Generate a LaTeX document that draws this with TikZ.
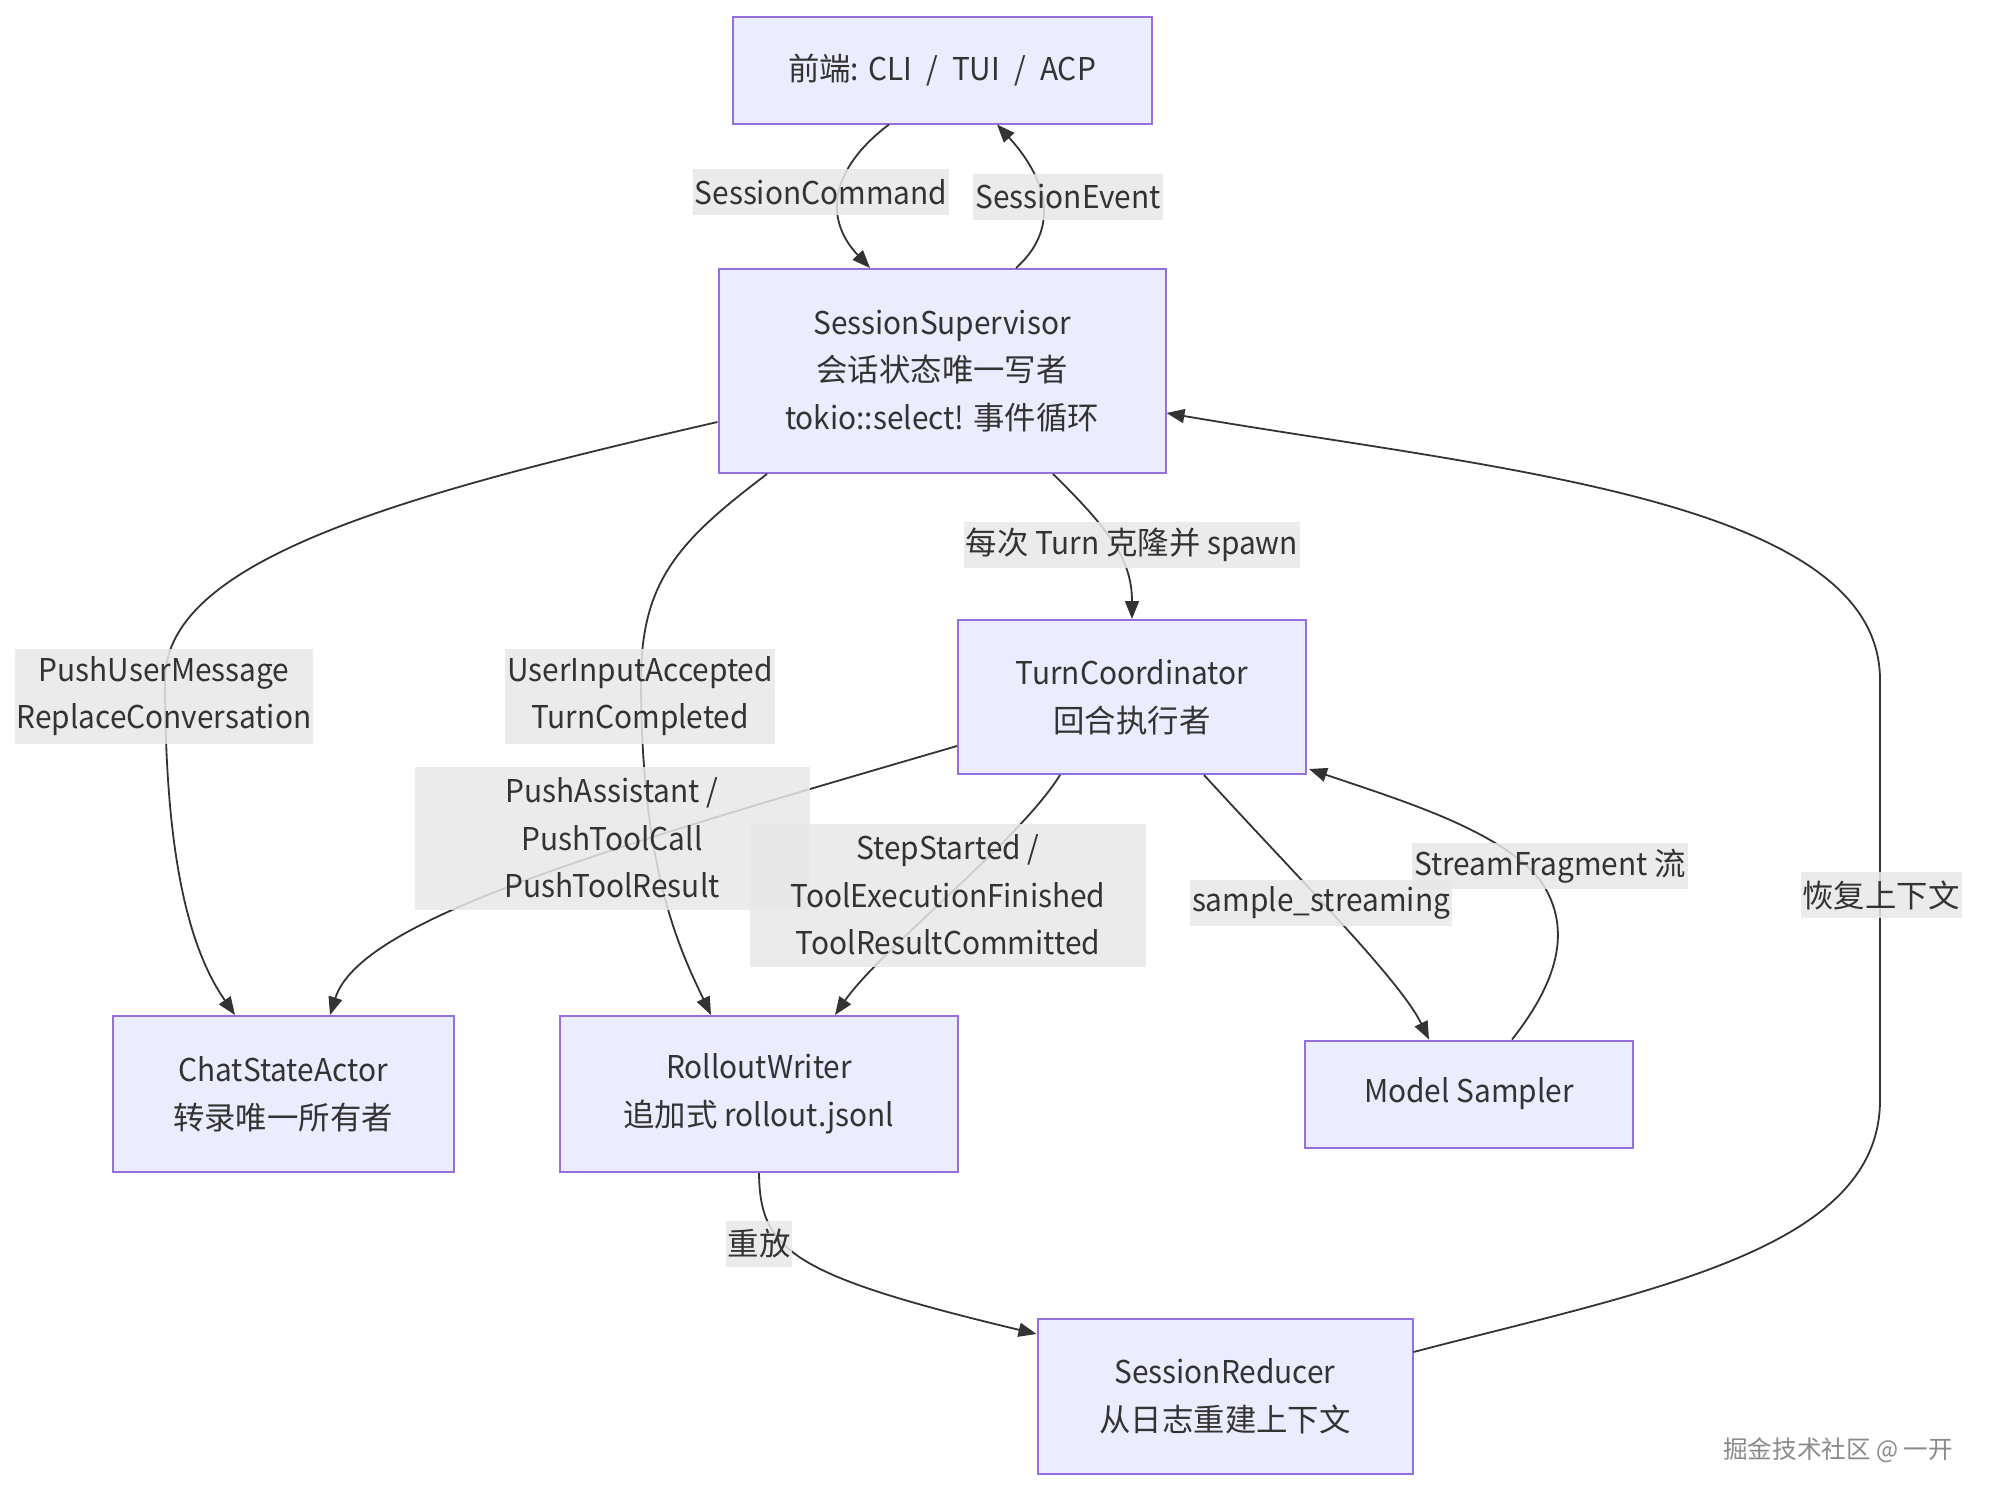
\documentclass[tikz,border=0pt]{standalone}
\usepackage{fontspec}
\setmainfont{Noto Sans CJK SC}[FakeStretch=0.95]
\newfontfamily\cjk{Noto Sans CJK SC}
\usetikzlibrary{arrows.meta,calc}
\definecolor{nodefill}{HTML}{ECECFF}
\definecolor{nodedraw}{HTML}{9370DB}
\definecolor{txt}{HTML}{333333}
\definecolor{lblbg}{HTML}{E8E8E8}
\definecolor{wmgray}{HTML}{8A8A8A}
\newcommand\nodefont{\fontsize{15.7}{23.8}\selectfont}
\newcommand\zh[1]{{\cjk #1}}
\newcommand\gap{\hspace{0.45em}}
\tikzset{
  box/.style={draw=nodedraw, fill=nodefill, line width=1pt, text=txt, align=center, font=\nodefont, inner sep=0pt},
  lbl/.style={fill=lblbg, fill opacity=0.85, text opacity=1, text=txt, align=center, font=\nodefont, inner xsep=1pt, inner ysep=0pt},
  edge/.style={draw=txt, line width=0.9pt, -{Triangle[length=9pt,width=7pt]}}
}
\begin{document}
\begin{tikzpicture}[x=0.5pt, y=-0.5pt]
\useasboundingbox (0,0) rectangle (1992,1500);
\fill[white] (0,0) rectangle (1992,1500);
% nodes
\node[box, minimum width=209.5pt, minimum height=53.5pt] (fe) at (942,70) {\zh{前端}: CLI\gap/\gap TUI\gap/\gap ACP};
\node[box, minimum width=223.5pt, minimum height=102pt] (ss) at (942,371) {SessionSupervisor\\\zh{会话状态唯一写者}\\tokio::select! \zh{事件循环}};
\node[box, minimum width=174pt, minimum height=77pt] (tc) at (1132,697) {TurnCoordinator\\\zh{回合执行者}};
\node[box, minimum width=170.5pt, minimum height=78pt] (csa) at (283,1094) {ChatStateActor\\\zh{转录唯一所有者}};
\node[box, minimum width=199pt, minimum height=78pt] (rw) at (759,1094) {RolloutWriter\\\zh{追加式} rollout.jsonl};
\node[box, minimum width=164pt, minimum height=53.5pt] (ms) at (1469,1094) {Model Sampler};
\node[box, minimum width=187.5pt, minimum height=77.5pt] (sr) at (1225,1396) {SessionReducer\\\zh{从日志重建上下文}};
% edges
\draw[edge] ($(fe.south)+(-53,0)$) .. controls (835,165) and (820,215) .. ($(ss.north)+(-72,0)$);
\draw[edge] ($(ss.north)+(74,0)$) .. controls (1075,215) and (1025,155) .. ($(fe.south)+(55,0)$);
\draw[edge] ($(ss.west)+(0,51)$) .. controls (400,495) and (165,560) .. (165,680) .. controls (165,860) and (190,950) .. ($(csa.north)+(-48,0)$);
\draw[edge] ($(ss.south)+(-175,0)$) .. controls (680,540) and (641,580) .. (641,680) .. controls (641,870) and (680,950) .. ($(rw.north)+(-48,0)$);
\draw[edge] ($(ss.south)+(111,0)$) .. controls (1110,530) and (1132,560) .. (tc.north);
\draw[edge] ($(tc.west)+(0,49)$) .. controls (600,850) and (360,920) .. ($(csa.north)+(47,0)$);
\draw[edge] ($(tc.south)+(-72,0)$) .. controls (1020,840) and (880,950) .. ($(rw.north)+(76,0)$);
\draw[edge] ($(tc.south)+(72,0)$) .. controls (1300,880) and (1400,980) .. ($(ms.north)+(-40,0)$);
\draw[edge] ($(ms.north)+(43,0)$) .. controls (1555,985) and (1575,930) .. (1540,880) .. controls (1500,830) and (1400,800) .. ($(tc.south east)+(2,-6)$);
\draw[edge] (rw.south) .. controls (760,1250) and (790,1275) .. ($(sr.west)+(0,-62)$);
\draw[edge] ($(sr.east)+(0,-44)$) .. controls (1650,1290) and (1880,1250) .. (1880,1100) -- (1880,680) .. controls (1880,500) and (1500,470) .. ($(ss.east)+(0,42)$);
% labels
\node[lbl, minimum height=23pt] (l1) at (821,192) {SessionCommand};
\node[lbl, minimum height=23pt] (l2) at (1068,197) {SessionEvent};
\node[lbl, minimum height=47.5pt] (l3) at (164,696) {PushUserMessage\\ReplaceConversation};
\node[lbl, minimum height=47.5pt] (l4) at (640,696) {UserInputAccepted\\TurnCompleted};
\node[lbl, minimum height=23pt] (l5) at (1132,545) {\zh{每次} Turn \zh{克隆并} spawn};
\node[lbl, minimum height=71.5pt, minimum width=197.5pt] (l6) at (612,838) {PushAssistant /\\PushToolCall\\PushToolResult};
\node[lbl, minimum height=71.5pt, minimum width=198pt] (l7) at (948,895) {StepStarted /\\ToolExecutionFinished\\ToolResultCommitted};
\node[lbl, minimum height=23pt] (l8) at (1321,903) {sample\_streaming};
\node[lbl, minimum height=23pt] (l9) at (1550,866) {StreamFragment \zh{流}};
\node[lbl, minimum height=23pt] (l10) at (1881,895) {\zh{恢复上下文}};
\node[lbl, minimum height=23pt] (l11) at (759,1244) {\zh{重放}};
% watermark
\node[font=\fontsize{12.3}{14}\selectfont, text=wmgray] (wm) at (1838,1450) {\zh{掘金技术社区} @ \zh{一开}};
\end{tikzpicture}
\end{document}
